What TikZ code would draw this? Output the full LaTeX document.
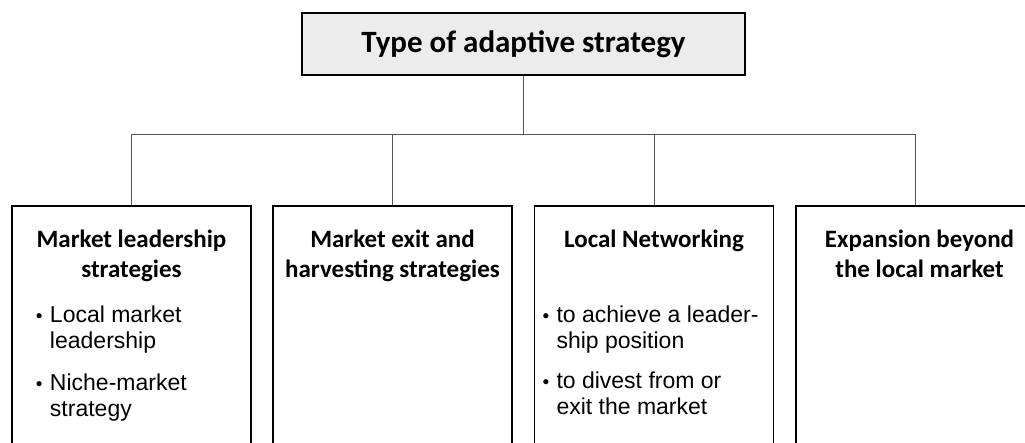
\documentclass[tikz,border=0pt]{standalone}
\usepackage{fontspec}
\setmainfont{Carlito}
\newfontfamily\arialfont{Liberation Sans}
\usepackage{tikz}
\usetikzlibrary{positioning}

\definecolor{titlegray}{RGB}{236,236,236}
\definecolor{linkgray}{RGB}{85,85,85}

\newcommand{\hdfont}{\fontsize{25}{30}\selectfont\bfseries}
\newcommand{\itfont}{\arialfont\fontsize{23}{26}\selectfont}
\newcommand{\boxhd}[1]{{\centering\hdfont\rule{0pt}{42pt}#1\par}}
% bullet: left offset, bullet width, text
\newcommand{\bitem}[3]{\par{\leftskip=#1\hangindent=#2\hangafter=1\noindent\makebox[#2][l]{\fontsize{19}{19}\selectfont\textbullet}#3\par}}

\begin{document}
\begin{tikzpicture}[x=1pt,y=-1pt,
  topbox/.style={draw,line width=2pt,fill=titlegray,minimum width=443pt,minimum height=62pt,inner sep=0pt,font=\fontsize{31}{36}\selectfont\bfseries},
  catbox/.style={draw,line width=1.6pt,anchor=north,inner sep=0pt},
  link/.style={draw=linkgray,line width=1pt}]
\useasboundingbox (0,0) rectangle (1025,443);

% Top
\node[topbox] (type) at (523.5,44) {Type of adaptive strategy};

% Categories
\node[catbox] (leader) at (131.5,205) {\parbox[t][250pt][t]{239pt}{%
  \boxhd{Market leadership\\strategies}\vspace{19pt}\itfont
  \bitem{24pt}{14pt}{Local market\\leadership}\vspace{16pt}
  \bitem{24pt}{14pt}{Niche-market\\strategy}}};
\node[catbox] (exit) at (392.5,205) {\parbox[t][250pt][t]{239pt}{%
  \boxhd{Market exit and\\harvesting strategies}}};
\node[catbox] (network) at (654,205) {\parbox[t][250pt][t]{239pt}{%
  \boxhd{Local Networking}\vspace{49pt}\itfont
  \bitem{8pt}{14pt}{to achieve a leader-\\ship position}\vspace{14pt}
  \bitem{8pt}{14pt}{to divest from or\\exit the market}}};
\node[catbox] (expand) at (915.5,205) {\parbox[t][250pt][t]{239pt}{%
  \boxhd{\hspace*{8pt}Expansion beyond\\\hspace*{8pt}the local market}}};

% Links
\coordinate (bus) at (0,135);
\draw[link] (type) -- (type |- bus);
\draw[link] (leader.north) |- (expand.north |- bus) -- (expand.north);
\draw[link] (exit.north) -- (exit.north |- bus);
\draw[link] (network.north) -- (network.north |- bus);
\end{tikzpicture}
\end{document}
